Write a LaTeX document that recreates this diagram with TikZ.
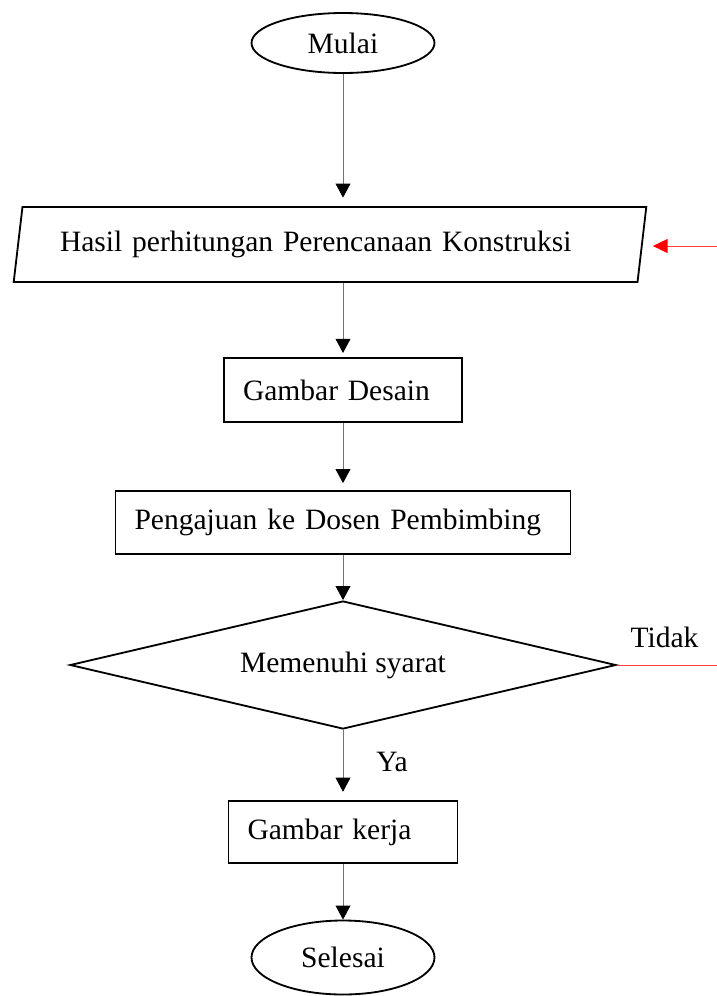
\documentclass[tikz,border=0pt]{standalone}
\usepackage{fontspec}
\setmainfont{Liberation Serif}
\usepackage{tikz}
\usetikzlibrary{shapes,arrows.meta,calc}

\begin{document}
\begin{tikzpicture}[
    font=\fontsize{21}{25}\selectfont,
    terminal/.style={ellipse, draw, line width=1.3pt, minimum width=4.575cm, inner sep=0pt},
    io/.style={trapezium, trapezium stretches=true, trapezium left angle=74, trapezium right angle=106, draw, line width=1.3pt, align=left, inner sep=0pt},
    block/.style={rectangle, draw, line width=1.2pt, align=left, inner xsep=0.475cm, inner ysep=0pt},
    decision/.style={diamond, aspect=4.27, draw, line width=1.3pt, inner sep=0pt},
    arrow/.style={draw=black!55, line width=0.6pt, -{Triangle[width=0.37cm, length=0.35cm, color=black]}, shorten >=3pt},
    feedback/.style={draw=red!75, line width=0.7pt}
]
    \useasboundingbox (0,0) rectangle (17.925,-24.9);

    % Start
    \node[terminal, minimum height=1.5cm] (mulai) at (8.575,-1.075) {Mulai};

    % Input
    \node[io, minimum width=15.9cm, minimum height=1.875cm, text width=13.5cm] (hasil) at (8.25,-6.1125) {Hasil perhitungan Perencanaan Konstruksi};

    % Process
    \node[block, text width=5.0cm, minimum height=1.6cm] (desain) at (8.575,-9.75) {Gambar Desain};
    \node[block, text width=10.425cm, minimum height=1.575cm] (ajuan) at (8.575,-13.0625) {Pengajuan ke Dosen Pembimbing};

    % Decision
    \node[decision, minimum width=13.65cm, minimum height=3.2cm] (cek) at (8.575,-16.625) {Memenuhi syarat};
    \node (tidak) at (16.6125,-15.925) {Tidak};
    \node (ya) at (9.8,-19.05) {Ya};

    % Output
    \node[block, text width=4.775cm, minimum height=1.55cm] (kerja) at (8.575,-20.8) {Gambar kerja};

    % End
    \node[terminal, minimum height=1.85cm] (selesai) at (8.575,-23.9375) {Selesai};

    % Loop back
    \coordinate (back1) at (17.925,-6.15);
    \coordinate (back2) at (17.925,-16.625);

    % Arrows
    \draw[arrow, shorten >=6pt] (mulai) -- (mulai |- hasil.north);
    \draw[arrow] (mulai |- hasil.south) -- (desain);
    \draw[arrow, shorten >=5pt] (desain) -- (ajuan);
    \draw[arrow, shorten >=0pt] (ajuan) -- (cek);
    \draw[arrow, shorten >=6pt] (cek) -- (kerja);
    \draw[arrow, shorten >=0pt] (kerja) -- (selesai);
    \draw[feedback, -{Triangle[width=0.35cm, length=0.37cm, color=red]}, shorten >=0.25cm] (back1) -- (back1 -| hasil.east);
    \draw[feedback] (cek.east) -- (back2);
\end{tikzpicture}
\end{document}
